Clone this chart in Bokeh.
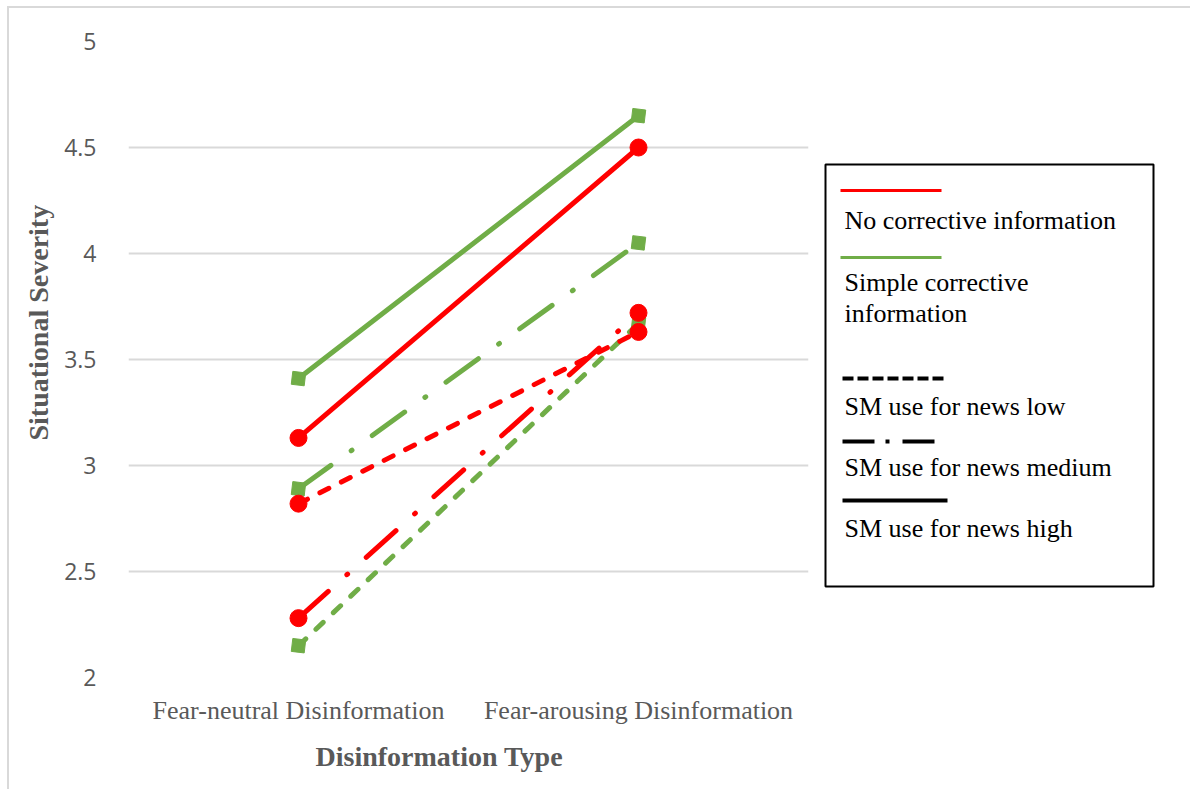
from bokeh.plotting import figure
from bokeh.models import FactorRange, Range1d, FixedTicker, NumeralTickFormatter, Title, ColumnDataSource
from bokeh.layouts import row
from bokeh.core.properties import value
from bokeh.embed import file_html
from bokeh.resources import INLINE

# Disinformation type categories (x axis)
categories = ["Fear-neutral Disinformation", "Fear-arousing Disinformation"]

# Estimated situational severity by SM-use-for-news level
no_corrective_low = [2.82, 3.63]
no_corrective_medium = [2.28, 3.72]
no_corrective_high = [3.13, 4.50]
simple_corrective_low = [2.15, 3.67]
simple_corrective_medium = [2.89, 4.05]
simple_corrective_high = [3.41, 4.65]

y_ticks = [2, 2.5, 3, 3.5, 4, 4.5, 5]

RED = "#ff0000"
GREEN = "#70ad47"
GRAY_TEXT = "#595959"
GRID = "#d9d9d9"
SERIF = "Liberation Serif"

BORDER_TOP, BORDER_BOTTOM = 33, 112

p = figure(
    x_range=FactorRange(*categories),
    y_range=Range1d(2, 5),
    width=807, height=781,
    min_border_left=119, min_border_right=8,
    min_border_top=BORDER_TOP, min_border_bottom=BORDER_BOTTOM,
    output_backend="svg", toolbar_location=None,
)
p.outline_line_color = None
p.background_fill_color = "white"
p.border_fill_color = "white"

p.xgrid.visible = False
p.ygrid.grid_line_color = GRID
p.ygrid.grid_line_width = 2

p.yaxis.ticker = FixedTicker(ticks=y_ticks)
p.yaxis.formatter = NumeralTickFormatter(format="0.[0]")
p.yaxis.major_label_text_font = "Open Sans"
p.yaxis.major_label_text_font_size = "23px"
p.yaxis.major_label_text_color = GRAY_TEXT
p.yaxis.major_label_standoff = 26

p.xaxis.major_label_text_font = SERIF
p.xaxis.major_label_text_font_size = "26px"
p.xaxis.major_label_text_color = GRAY_TEXT
p.xaxis.major_label_standoff = 12

for ax in (p.xaxis, p.yaxis):
    ax.axis_line_color = None
    ax.major_tick_line_color = None
    ax.minor_tick_line_color = None

p.add_layout(Title(text="Situational Severity", align="left", offset=237,
                   text_font=SERIF, text_font_size="28px", text_font_style="bold",
                   text_color=GRAY_TEXT, standoff=15), "left")
p.add_layout(Title(text="Disinformation Type", align="left", offset=187,
                   text_font=SERIF, text_font_size="28px", text_font_style="bold",
                   text_color=GRAY_TEXT, standoff=22), "below")

LOW_DASH = "10 14"
MED_DASH = "40 25 1 25"

series = [
    (simple_corrective_low, GREEN, LOW_DASH, "square"),
    (simple_corrective_medium, GREEN, MED_DASH, "square"),
    (simple_corrective_high, GREEN, "solid", "square"),
    (no_corrective_low, RED, LOW_DASH, "circle"),
    (no_corrective_medium, RED, MED_DASH, "circle"),
    (no_corrective_high, RED, "solid", "circle"),
]

for vals, color, dash, marker in series:
    src = ColumnDataSource(dict(x=categories, y=vals))
    p.line("x", "y", source=src, line_color=color, line_width=5,
           line_dash=dash, line_cap="round")
for vals, color, dash, marker in series:
    src = ColumnDataSource(dict(x=categories, y=vals))
    if marker == "circle":
        p.scatter("x", "y", source=src, marker="circle", size=17,
                  fill_color=color, line_color=color)
    else:
        p.scatter("x", "y", source=src, marker="square", size=13, angle=-0.12,
                  fill_color=color, line_color=color)

# Legend panel: same vertical borders as the chart, pixel coordinates with origin at top-left of its frame
leg = figure(
    x_range=Range1d(0, 366), y_range=Range1d(636, 0),
    width=374, height=781,
    min_border_left=4, min_border_right=4,
    min_border_top=BORDER_TOP, min_border_bottom=BORDER_BOTTOM,
    x_axis_location=None, y_axis_location=None,
    output_backend="svg", toolbar_location=None,
)
leg.grid.visible = False
leg.outline_line_color = None
leg.background_fill_color = "white"
leg.border_fill_color = "white"

leg.quad(left=5, right=333, top=123, bottom=545, fill_color="white",
         line_color="black", line_width=2)

legend_keys = [
    (RED, "solid", 3, 20, 121, 149),
    (GREEN, "solid", 3, 20, 121, 216),
    ("black", "11 4", 4, 22, 123, 337),
    ("black", "32 11 4 13", 4, 22, 114, 400),
    ("black", "solid", 4, 22, 127, 459),
]
for color, dash, w, x0, x1, yy in legend_keys:
    leg.line([x0, x1], [yy, yy], line_color=color, line_dash=dash,
             line_width=w, line_cap="butt")

legend_text = ["No corrective information", "Simple corrective", "information",
               "SM use for news low", "SM use for news medium", "SM use for news high"]
legend_baselines = [179, 241, 272, 365, 426, 487]
leg.text(x=[24] * len(legend_text), y=legend_baselines, text=legend_text,
         text_font=value(SERIF), text_font_size="26px", text_color="black",
         text_baseline="alphabetic", text_align="left")

layout = row(p, leg, margin=(6, 0, 0, 7),
             styles={"border-top": "2px solid #d9d9d9", "border-left": "2px solid #d9d9d9"})

open("out.html", "w").write(file_html(layout, INLINE))
